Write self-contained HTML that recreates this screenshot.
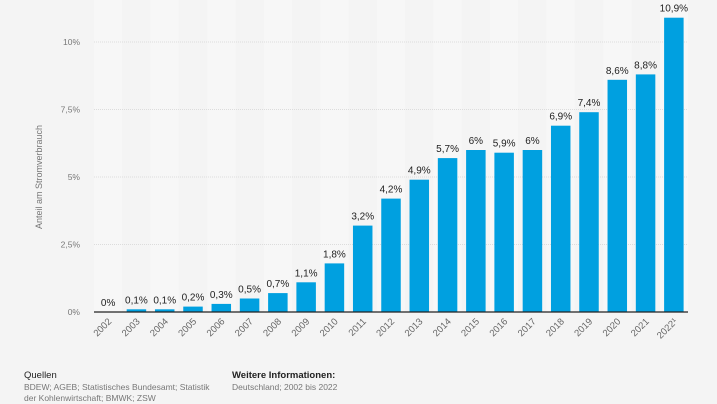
<!DOCTYPE html>
<html><head><meta charset="utf-8"><style>
body{margin:0;width:717px;height:403px;background:#f4f4f4;font-family:"Liberation Sans",sans-serif;overflow:hidden;position:relative}
.src{position:absolute;font-size:8.5px;color:#777;line-height:11px}
.src b{color:#222;font-weight:normal;font-size:9.5px;display:block;margin-bottom:1px}
</style></head><body>
<svg width="717" height="403" style="position:absolute;left:0;top:0" id="c"></svg>
<div class="src" style="left:24px;top:370px"><b>Quellen</b>BDEW; AGEB; Statistisches Bundesamt; Statistik<br>der Kohlenwirtschaft; BMWK; ZSW</div>
<div class="src" style="left:232px;top:370px"><b style="font-weight:bold">Weitere Informationen:</b>Deutschland; 2002 bis 2022</div>
<script>
const categories=["2002","2003","2004","2005","2006","2007","2008","2009","2010","2011","2012","2013","2014","2015","2016","2017","2018","2019","2020","2021","2022¹"];
const values=[0,0.1,0.1,0.2,0.3,0.5,0.7,1.1,1.8,3.2,4.2,4.9,5.7,6,5.9,6,6.9,7.4,8.6,8.8,10.9];
const valueLabels=["0%","0,1%","0,1%","0,2%","0,3%","0,5%","0,7%","1,1%","1,8%","3,2%","4,2%","4,9%","5,7%","6%","5,9%","6%","6,9%","7,4%","8,6%","8,8%","10,9%"];
const ticks=[0,2.5,5,7.5,10];
const tickLabels=["0%","2,5%","5%","7,5%","10%"];
const svg=document.getElementById('c');const NS='http://www.w3.org/2000/svg';
const x0=94,x1=688,y0=312,yTop=42,vmax=10;
const band=(x1-x0)/categories.length;
const y=v=>y0-(v/vmax)*(y0-yTop);
const xc=i=>x0+band*(i+0.5);
function mk(t,a,p){const e=document.createElementNS(NS,t);for(const k in a)e.setAttribute(k,a[k]);(p||svg).appendChild(e);return e;}
categories.forEach((c,i)=>{if(i%2===0){const r=mk('rect',{x:x0+band*i,y:0,width:band,height:y0,fill:'#f7f7f7'});

}});
ticks.forEach((t,i)=>{
const l=mk('line',{x1:x0,x2:x1,y1:y(t),y2:y(t),stroke:'#dcdcdc','stroke-dasharray':'1,1','stroke-width':1});


const tx=mk('text',{x:80,y:y(t)+3,'text-anchor':'end','font-size':'8.5',fill:'#777'});tx.textContent=tickLabels[i];


});
const yt=mk('text',{transform:'translate(42,177) rotate(-90)','text-anchor':'middle','font-size':'9',fill:'#777'});yt.textContent='Anteil am Stromverbrauch';


values.forEach((v,i)=>{
const bw=19.5;
const r=mk('rect',{x:xc(i)-bw/2,y:y(v),width:bw,height:y0-y(v),fill:'#00a0e0'});


const t=mk('text',{x:xc(i),y:y(v)-6,'text-anchor':'middle','font-size':'10',fill:'#222'});t.textContent=valueLabels[i];


const xl=mk('text',{transform:`translate(${xc(i)+4},${y0+10}) rotate(-45)`,'text-anchor':'end','font-size':'9.5',fill:'#666'});xl.textContent=categories[i];


});
const ax=mk('line',{x1:x0,x2:x1,y1:y0,y2:y0,stroke:'#222','stroke-width':1.2});


</script>
</body></html>
